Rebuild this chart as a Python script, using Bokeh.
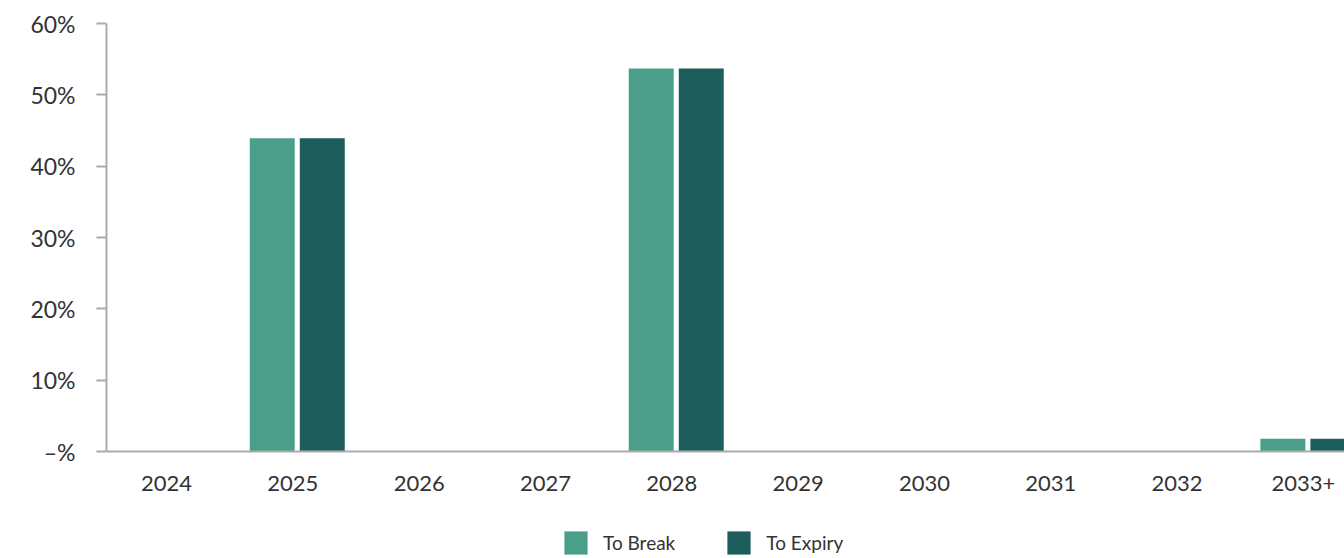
import numpy as np
from bokeh.plotting import figure
from bokeh.models import Range1d, Legend, LegendItem, FixedTicker, ColumnDataSource
from bokeh.transform import dodge
from bokeh.embed import file_html
from bokeh.resources import INLINE

years = ["2024", "2025", "2026", "2027", "2028", "2029", "2030", "2031", "2032", "2033+"]
to_break = [0, 43.9, 0, 0, 53.7, 0, 0, 0, 0, 1.8]
to_expiry = [0, 43.9, 0, 0, 53.7, 0, 0, 0, 0, 1.8]
y_ticks = [0, 10, 20, 30, 40, 50, 60]
y_labels = ["–%", "10%", "20%", "30%", "40%", "50%", "60%"]

LIGHT = "#4a9e8a"
DARK = "#1d5e5c"
FONT = "Lato"
TXT = "#333333"
AXC = "#ababab"

pos = np.arange(len(years)) + 0.5
src = ColumnDataSource(dict(x=pos, brk=to_break, exp=to_expiry))

# frame runs down to the bottom of the figure; the value axis stops at 0
p = figure(width=1344, height=558, output_backend="svg", toolbar_location=None,
           x_range=Range1d(0.025, 9.825), y_range=Range1d(-15.0, 60),
           min_border_left=106, min_border_right=0, min_border_top=23, min_border_bottom=0)
p.outline_line_color = None
p.xgrid.visible = False
p.ygrid.visible = False

r1 = p.vbar(x=dodge("x", -0.163), top="brk", width=0.356, source=src,
            fill_color=LIGHT, line_color=None)
r2 = p.vbar(x=dodge("x", 0.233), top="exp", width=0.356, source=src,
            fill_color=DARK, line_color=None)

# y axis
ya = p.yaxis[0]
ya.ticker = FixedTicker(ticks=y_ticks)
ya.bounds = (0, 60)
ya.major_label_overrides = {t: l for t, l in zip(y_ticks, y_labels)}
ya.axis_line_color = AXC
ya.axis_line_width = 2
ya.major_tick_line_color = AXC
ya.major_tick_line_width = 2
ya.major_tick_out = 10
ya.major_tick_in = 0
ya.minor_tick_line_color = None
ya.major_label_standoff = 21
ya.major_label_text_font = FONT
ya.major_label_text_font_size = "23px"
ya.major_label_text_color = TXT

# x axis, drawn at the zero line
xa = p.xaxis[0]
xa.fixed_location = 0
xa.ticker = FixedTicker(ticks=list(pos))
xa.major_label_overrides = {float(v): y for v, y in zip(pos, years)}
xa.axis_line_color = AXC
xa.axis_line_width = 2
xa.major_tick_line_color = None
xa.minor_tick_line_color = None
xa.major_label_standoff = 18
xa.major_label_text_font = FONT
xa.major_label_text_font_size = "22px"
xa.major_label_text_color = TXT

legend = Legend(items=[LegendItem(label="To Break", renderers=[r1]),
                       LegendItem(label="To Expiry", renderers=[r2])],
                orientation="horizontal", location=(455, 1),
                glyph_width=29, glyph_height=29, label_standoff=13, spacing=49,
                label_text_font=FONT, label_text_font_size="19px",
                label_text_color=TXT, border_line_color=None,
                background_fill_alpha=0, padding=0, margin=0)
p.add_layout(legend, "center")

open("out.html", "w").write(file_html(p, INLINE))
